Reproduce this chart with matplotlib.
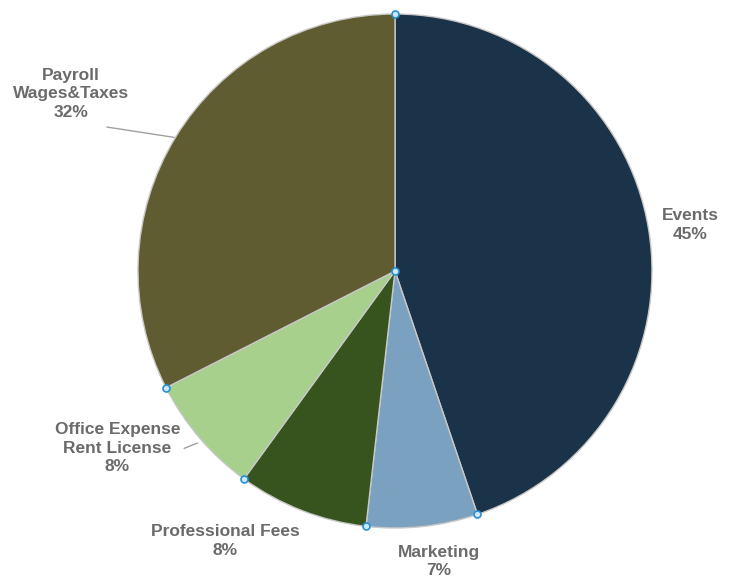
import numpy as np
import matplotlib.pyplot as plt

# Expense breakdown
categories = ['Events', 'Marketing', 'Professional Fees', 'Office Expense\nRent License', 'Payroll\nWages&Taxes']
shares = [44.8, 7.0, 8.2, 7.5, 32.5]
pct_labels = ['45%', '7%', '8%', '8%', '32%']
colors = ['#1b3349', '#7ba1c1', '#37541f', '#a6d08b', '#5e5c30']

# label positions (data units, pie radius = 1)
label_pos = [(1.15, 0.18), (0.17, -1.13), (-0.66, -1.05), (-1.08, -0.69), (-1.26, 0.69)]

fig = plt.figure(figsize=(7.44, 5.82), dpi=100)
ax = fig.add_axes([0, 0, 1, 1])

wedges, _ = ax.pie(shares, colors=colors, startangle=90, counterclock=False,
                   radius=1.0, center=(0, 0),
                   wedgeprops=dict(edgecolor='#c8c8c8', linewidth=1.0))

for name, pct, (x, y) in zip(categories, pct_labels, label_pos):
    ax.text(x, y, name + '\n' + pct, ha='center', va='center', fontsize=12.5,
            fontweight='bold', color='#6b6b6b', family='Liberation Sans',
            linespacing=1.3)

# leader lines for the left labels
ax.plot([-1.12, -0.86], [0.56, 0.52], color='#a0a0a0', lw=1)
ax.plot([-0.82, -0.77], [-0.69, -0.67], color='#a0a0a0', lw=1)

# small selection handles at slice boundaries
for w in wedges:
    t = np.deg2rad(w.theta1)
    ax.plot(np.cos(t), np.sin(t), 'o', ms=5, mfc='#cfe8fb', mec='#2a8fd6', mew=1.2, zorder=5)
ax.plot(0, 0, 'o', ms=5, mfc='#cfe8fb', mec='#2a8fd6', mew=1.2, zorder=5)

ax.set_aspect('equal')
ax.set_xlim(-395 / 257, (744 - 395) / 257)
ax.set_ylim(-(582 - 271) / 257, 271 / 257)
ax.axis('off')

fig.savefig('out.png', dpi=100)
